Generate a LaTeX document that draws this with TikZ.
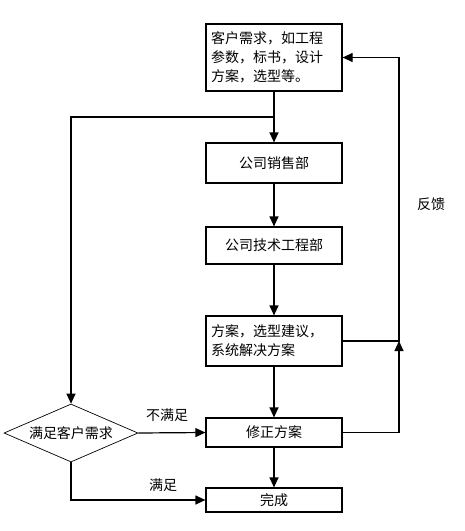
\documentclass[tikz,border=0pt]{standalone}
\usepackage{fontspec}
\newfontfamily\cjk{Noto Sans CJK SC}
\usetikzlibrary{arrows.meta,shapes.geometric}
\begin{document}
\begin{tikzpicture}[x=1pt,y=-1pt,
  every node/.style={font=\cjk\fontsize{14}{19}\selectfont},
  box/.style={draw,line width=1.2pt,minimum width=136pt,inner sep=0pt},
  arr/.style={line width=1.2pt,-{Triangle[length=10pt,width=9pt]}},
  ln/.style={line width=1.2pt},
  dia/.style={draw,diamond,line width=0.7pt,minimum width=134pt,minimum height=58pt,inner sep=0pt},
  lbl/.style={inner sep=0pt}]
\useasboundingbox (0,0) rectangle (465,531);
\node[box,minimum height=67pt,text width=126pt,align=left] (b1) at (274,57.5) {客户需求，如工程\\参数，标书，设计\\方案，选型等。};
\node[box,minimum height=40pt] (b2) at (274,163) {公司销售部};
\node[box,minimum height=37pt] (b3) at (274,245.5) {公司技术工程部};
\node[box,minimum height=50pt,text width=126pt,align=left] (b4) at (274,341) {方案，选型建议，\\系统解决方案};
\node[box,minimum height=29pt] (b5) at (274,432.5) {修正方案};
\node[box,minimum height=24pt] (b6) at (274,500) {完成};
\node[dia,label={center:满足客户需求}] (d) at (71,433) {};
\coordinate (j1) at (274,117);
\coordinate (fb) at (399,341);
\draw[arr] (b1.south) -- (b2.north);
\draw[arr] (j1) -| (d.north);
\draw[arr] (b2.south) -- (b3.north);
\draw[arr] (b3.south) -- (b4.north);
\draw[arr] (b4.south) -- (b5.north);
\draw[arr] (b5.south) -- (b6.north);
\draw[arr] (d.east) -- (b5.west);
\draw[arr] (d.south) |- (b6.west);
\draw[arr] (b4.east) -- (fb) |- (b1.east);
\draw[arr] (b5.east) -| (fb);
\node[lbl] (t1) at (167,415) {不满足};
\node[lbl] (t2) at (163,485) {满足};
\node[lbl] (t3) at (431,204) {反馈};
\end{tikzpicture}
\end{document}
